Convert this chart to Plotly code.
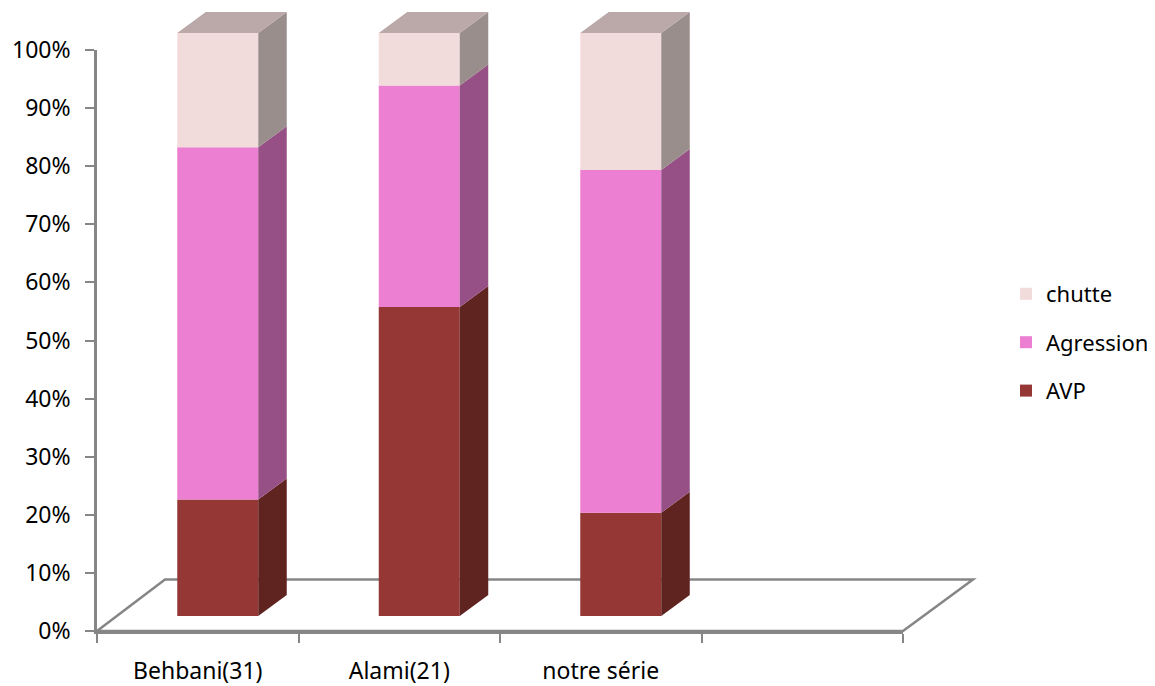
import plotly.graph_objects as go

categories = ["Behbani(31)", "Alami(21)", "notre série"]
axis_slots = categories + [" "]
avp = [20.0, 53.0, 17.7]
agression = [60.4, 38.0, 58.8]
chutte = [19.6, 9.0, 23.5]
y_ticks = list(range(0, 101, 10))
y_tick_labels = [f"{v}%" for v in y_ticks]

PAGE = 8  # the page puts the figure 8px in from the window corner
W, H = 1155 - PAGE, 686 - PAGE
FONT = "Noto Sans"
AXIS = "#868686"

# window-pixel geometry of the fake-3D frame
X0, X1 = 97, 903
Y0, Y100 = 631, 50
SLOT = (X1 - X0) / 4
FRONT_BASE, FRONT_TOP = 616, 33
UNIT = (FRONT_BASE - FRONT_TOP) / 100
BAR_SHIFT = 20 / SLOT
BAR_W = 81 / SLOT
DX = 28.5 / SLOT
DY = 21 / UNIT


def cat_x(px):
    return (px - X0) / SLOT - 0.5


def val_y(px):
    return (FRONT_BASE - px) / UNIT


series = [
    ("AVP", avp, "#953735", "#5F2320", 3),
    ("Agression", agression, "#EC7FD2", "#975085", 2),
    ("chutte", chutte, "#F2DCDB", "#9A8E8C", 1),
]
TOP_COLOR = "#BBA8A8"

fig = go.Figure()

fig.add_trace(go.Scatter(x=axis_slots, y=[0] * 4, mode="none", showlegend=False,
                         hoverinfo="skip", xaxis="x", yaxis="y"))

centres = [i + BAR_SHIFT for i in range(len(categories))]
right = [c + BAR_W / 2 for c in centres]
left = [c - BAR_W / 2 for c in centres]
cum = [0.0] * len(categories)

for name, vals, col, side, rank in series:
    fig.add_trace(go.Bar(x=centres, y=vals, base=cum, width=BAR_W, name=name,
                         legendgroup=name, legendrank=rank,
                         marker=dict(color=col, line=dict(width=0)),
                         xaxis="x2", yaxis="y2"))
    sx, sy = [], []
    for r, lo, v in zip(right, cum, vals):
        hi = lo + v
        sx += [r, r + DX, r + DX, r, r, None]
        sy += [lo, lo + DY, hi + DY, hi, lo, None]
    fig.add_trace(go.Scatter(x=sx, y=sy, mode="lines", fill="toself", fillcolor=side,
                             line=dict(width=0), showlegend=False, hoverinfo="skip",
                             xaxis="x2", yaxis="y2"))
    cum = [lo + v for lo, v in zip(cum, vals)]

tx, ty = [], []
for l, r, top in zip(left, right, cum):
    tx += [l, r, r + DX, l + DX, l, None]
    ty += [top, top, top + DY, top + DY, top, None]
fig.add_trace(go.Scatter(x=tx, y=ty, mode="lines", fill="toself", fillcolor=TOP_COLOR,
                         line=dict(width=0), showlegend=False, hoverinfo="skip",
                         xaxis="x2", yaxis="y2"))

fig.add_shape(type="path", xref="x2", yref="y2", layer="below",
              path=(f"M{cat_x(97)},{val_y(631)} L{cat_x(165)},{val_y(579.5)} "
                    f"L{cat_x(973)},{val_y(579.5)} L{cat_x(903)},{val_y(631)} Z"),
              line=dict(color=AXIS, width=2.5), fillcolor="rgba(0,0,0,0)")

tick_font = dict(family=FONT, size=23, color="#000000")
fig.update_layout(
    width=W, height=H, autosize=False,
    margin=dict(l=0, r=0, t=0, b=0, autoexpand=False),
    paper_bgcolor="white", plot_bgcolor="rgba(0,0,0,0)",
    barmode="overlay",
    showlegend=True,
    legend=dict(x=(1006 - PAGE) / W, y=1 - (273 - PAGE) / H, xanchor="left", yanchor="top",
                traceorder="grouped", tracegroupgap=16.8,
                font=dict(family=FONT, size=22, color="#000000"),
                bgcolor="rgba(0,0,0,0)"),
    xaxis=dict(domain=[(X0 - PAGE) / W, (X1 - PAGE) / W], type="category",
               categoryorder="array", categoryarray=axis_slots, range=[-0.5, 3.5],
               tickson="boundaries", ticks="outside", ticklen=9, tickwidth=2,
               tickcolor=AXIS, showline=True, linecolor=AXIS, linewidth=2.5,
               showgrid=False, zeroline=False, tickfont=tick_font,
               ticklabelstandoff=18, anchor="y", automargin=False),
    yaxis=dict(domain=[1 - (Y0 - PAGE) / H, 1 - (Y100 - PAGE) / H], range=[0, 100],
               tickvals=y_ticks, ticktext=y_tick_labels,
               ticks="outside", ticklen=9, tickwidth=2, tickcolor=AXIS,
               showline=True, linecolor=AXIS, linewidth=2.5, showgrid=False,
               zeroline=False, tickfont=tick_font, ticklabelstandoff=10,
               anchor="x", automargin=False),
    xaxis2=dict(domain=[0, 1], range=[cat_x(PAGE), cat_x(1155)], visible=False,
                anchor="y2", fixedrange=True),
    yaxis2=dict(domain=[0, 1], range=[val_y(686), val_y(PAGE)], visible=False,
                anchor="x2", fixedrange=True),
)

fig.write_html("out.html")
